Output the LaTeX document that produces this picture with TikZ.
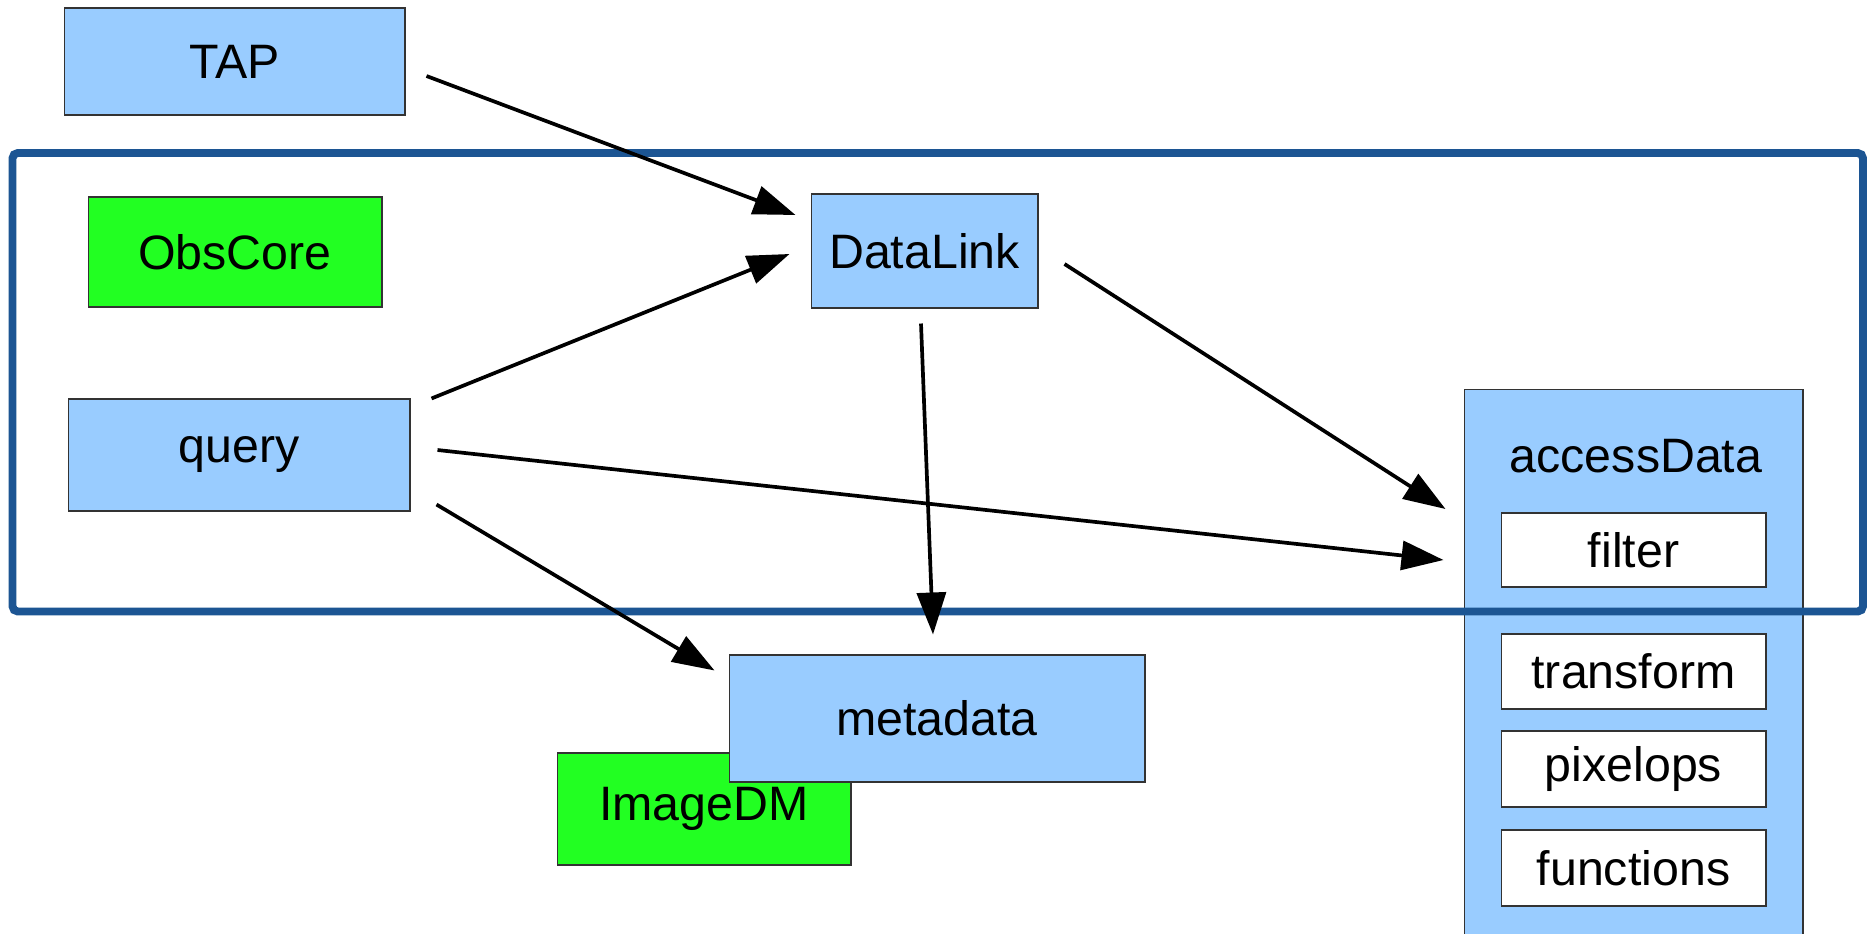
\documentclass[tikz,border=0pt]{standalone}
\usepackage{fontspec}
\setmainfont{Liberation Sans}
\usetikzlibrary{arrows.meta}
\definecolor{boxblue}{HTML}{99CCFF}
\definecolor{boxgreen}{HTML}{22FF22}
\definecolor{framblue}{HTML}{1C5593}
\definecolor{edge}{HTML}{333333}
\tikzset{
  box/.style={draw=edge, line width=0.6pt, inner sep=0pt, font=\fontsize{27.5}{31}\selectfont, text=black},
  bluebox/.style={box, fill=boxblue},
  greenbox/.style={box, fill=boxgreen},
  whitebox/.style={box, fill=white},
  arr/.style={line width=2.1pt, -{Triangle[length=0.84cm, width=0.58cm]}},
  framestyle/.style={draw=framblue, line width=4.5pt, rounded corners=3pt}
}
\begin{document}
\begin{tikzpicture}[x=0.02cm, y=-0.02cm]
\clip (0,0) rectangle (1871,933);
\fill[white] (0,0) rectangle (1871,933);
% boxes
\node[bluebox, minimum width=6.82cm, minimum height=2.14cm] (tap) at (234.5,61.5) {TAP};
\node[greenbox, minimum width=5.88cm, minimum height=2.20cm] (obscore) at (235,252) {ObsCore};
\node[bluebox, minimum width=6.84cm, minimum height=2.24cm] (query) at (239,455) {query};
\node[bluebox, minimum width=4.54cm, minimum height=2.28cm] (datalink) at (924.5,251) {DataLink};
\node[greenbox, minimum width=5.88cm, minimum height=2.24cm] (imagedm) at (704,809) {ImageDM};
\node[bluebox, minimum width=8.32cm, minimum height=2.54cm] (metadata) at (937,718.5) {metadata};
\node[bluebox, minimum width=6.78cm, minimum height=11.12cm] (access) at (1633.5,667) {};
\node[font=\fontsize{27.5}{31}\selectfont, inner sep=0pt] (accesslabel) at (1636,456) {accessData};
\node[whitebox, minimum width=5.30cm, minimum height=1.48cm] (filter) at (1633.5,550) {filter};
\node[whitebox, minimum width=5.30cm, minimum height=1.50cm] (transform) at (1633.5,671.5) {transform};
\node[whitebox, minimum width=5.30cm, minimum height=1.52cm] (pixelops) at (1633.5,769) {pixelops};
\node[whitebox, minimum width=5.30cm, minimum height=1.52cm] (functions) at (1633.5,868) {functions};
% frame
\draw[framestyle] (12.5,153) rectangle (1863,611.5);
% arrows
\draw[arr] ([shift={(21,14.5)}]tap.east) -- ([shift={(-15,-36)}]datalink.west);
\draw[arr] ([shift={(21,0)}]query.north east) -- ([shift={(-21,3)}]datalink.west);
\draw[arr] ([shift={(27,-5)}]query.east) -- ([shift={(-20,-107)}]access.west);
\draw[arr] ([shift={(26,-7)}]query.south east) -- ([shift={(-14,16)}]metadata.north west);
\draw[arr] ([shift={(-3.5,15)}]datalink.south) -- ([shift={(-4,-20)}]metadata.north);
\draw[arr] ([shift={(26,13)}]datalink.east) -- ([shift={(-18,-158)}]access.west);
\end{tikzpicture}
\end{document}
